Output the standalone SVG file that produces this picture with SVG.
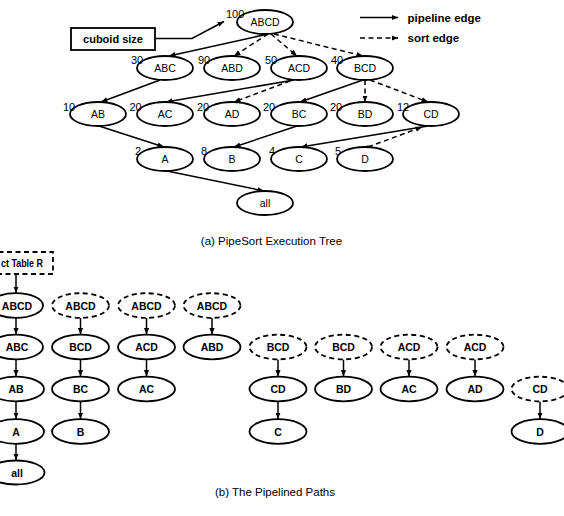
<svg xmlns="http://www.w3.org/2000/svg" width="564" height="516" viewBox="0 0 564 516">
<style>
.n ellipse{fill:#fff;stroke:#000;stroke-width:1.8}
.d ellipse{fill:#fff;stroke:#000;stroke-width:1.8;stroke-dasharray:5 3.5}
.t{font-family:"Liberation Sans",Arial,sans-serif;font-size:10.5px;text-anchor:middle;fill:#000}
.tb{font-family:"Liberation Sans",Arial,sans-serif;font-size:10.5px;font-weight:bold;text-anchor:middle;fill:#000}
.num{font-family:"Liberation Sans",Arial,sans-serif;font-size:11px;fill:#000}
.lg{font-family:"Liberation Sans",Arial,sans-serif;font-size:11.5px;font-weight:bold;fill:#000}
.cap{font-family:"Liberation Sans",Arial,sans-serif;font-size:11.5px;text-anchor:middle;fill:#000}
.e line,.e polyline{stroke:#000;stroke-width:1.5;fill:none;marker-end:url(#arr)}
.e .ds{stroke-dasharray:5 3.5}
</style>
<defs>
<marker id="arr" viewBox="0 0 10 10" refX="10" refY="5" markerWidth="6.5" markerHeight="6.5" markerUnits="userSpaceOnUse" orient="auto"><path d="M0,1 L10,5 L0,9 z" fill="#000"/></marker>
<marker id="dot" viewBox="0 0 10 10" refX="5" refY="5" markerWidth="3.5" markerHeight="3.5" markerUnits="userSpaceOnUse"><circle cx="5" cy="5" r="5" fill="#000"/></marker>
</defs>

<!-- legend and cuboid size annotation -->
<g id="legend">
<g class="e">
<line x1="360" y1="17.5" x2="398" y2="17.5"/>
<line class="ds" x1="360" y1="38" x2="398" y2="38"/>
</g>
<text class="lg" x="407.5" y="21.5">pipeline edge</text>
<text class="lg" x="407.5" y="42">sort edge</text>
</g>
<g id="cuboid-size">
<rect x="71" y="28" width="84" height="22" fill="#fff" stroke="#000" stroke-width="1.8"/>
<text class="lg" x="113" y="43" text-anchor="middle" style="font-size:11px">cuboid size</text>
<g class="e"><polyline points="155,38.5 192,38.5 224,21.5"/></g>
</g>

<!-- (a) connectors -->
<g id="edges-a" class="e">
<line x1="268" y1="34" x2="169" y2="56"/>
<line class="ds" x1="268" y1="34" x2="234" y2="56"/>
<line class="ds" x1="271" y1="34" x2="297" y2="56"/>
<line class="ds" x1="274" y1="34" x2="363" y2="56"/>
<line x1="160" y1="80" x2="101" y2="102"/>
<line x1="294" y1="80" x2="166" y2="102"/>
<line class="ds" x1="290" y1="81" x2="234" y2="102"/>
<line x1="363" y1="80" x2="300" y2="102"/>
<line class="ds" x1="365" y1="80" x2="365" y2="102"/>
<line class="ds" x1="370" y1="80" x2="428" y2="102"/>
<line x1="99" y1="126" x2="164" y2="147"/>
<line x1="297" y1="126" x2="234" y2="147"/>
<line x1="428" y1="126" x2="301" y2="147"/>
<line class="ds" x1="368" y1="147" x2="422" y2="127" style="marker-start:url(#dot)"/>
<line x1="167" y1="171" x2="264" y2="191"/>
</g>

<!-- (a) nodes -->
<g id="a-ABCD" class="n"><ellipse cx="265" cy="22" rx="28" ry="12"/><text class="t" x="265" y="26">ABCD</text><text class="num" x="226" y="17.5">100</text></g>
<g id="a-ABC" class="n"><ellipse cx="165" cy="68" rx="28" ry="12"/><text class="t" x="165" y="72">ABC</text><text class="num" x="131" y="64">30</text></g>
<g id="a-ABD" class="n"><ellipse cx="232" cy="68" rx="28" ry="12"/><text class="t" x="232" y="72">ABD</text><text class="num" x="198" y="64">90</text></g>
<g id="a-ACD" class="n"><ellipse cx="299" cy="68" rx="28" ry="12"/><text class="t" x="299" y="72">ACD</text><text class="num" x="265" y="64">50</text></g>
<g id="a-BCD" class="n"><ellipse cx="365" cy="68" rx="28" ry="12"/><text class="t" x="365" y="72">BCD</text><text class="num" x="331" y="64">40</text></g>
<g id="a-AB" class="n"><ellipse cx="98" cy="114" rx="28" ry="12"/><text class="t" x="98" y="118">AB</text><text class="num" x="63" y="111">10</text></g>
<g id="a-AC" class="n"><ellipse cx="165" cy="114" rx="28" ry="12"/><text class="t" x="165" y="118">AC</text><text class="num" x="129.5" y="111">20</text></g>
<g id="a-AD" class="n"><ellipse cx="232" cy="114" rx="28" ry="12"/><text class="t" x="232" y="118">AD</text><text class="num" x="197" y="111">20</text></g>
<g id="a-BC" class="n"><ellipse cx="299" cy="114" rx="28" ry="12"/><text class="t" x="299" y="118">BC</text><text class="num" x="263" y="111">20</text></g>
<g id="a-BD" class="n"><ellipse cx="365" cy="114" rx="28" ry="12"/><text class="t" x="365" y="118">BD</text><text class="num" x="330" y="111">20</text></g>
<g id="a-CD" class="n"><ellipse cx="431" cy="114" rx="28" ry="12"/><text class="t" x="431" y="118">CD</text><text class="num" x="397" y="111">12</text></g>
<g id="a-A" class="n"><ellipse cx="165" cy="159" rx="28" ry="12"/><text class="t" x="165" y="163">A</text><text class="num" x="135" y="155">2</text></g>
<g id="a-B" class="n"><ellipse cx="232" cy="159" rx="28" ry="12"/><text class="t" x="232" y="163">B</text><text class="num" x="201" y="155">8</text></g>
<g id="a-C" class="n"><ellipse cx="299" cy="159" rx="28" ry="12"/><text class="t" x="299" y="163">C</text><text class="num" x="269" y="155">4</text></g>
<g id="a-D" class="n"><ellipse cx="365" cy="159" rx="28" ry="12"/><text class="t" x="365" y="163">D</text><text class="num" x="335" y="155">5</text></g>
<g id="a-all" class="n"><ellipse cx="265" cy="203" rx="28" ry="12"/><text class="t" x="265" y="207">all</text></g>

<text class="cap" x="271.5" y="244.5">(a) PipeSort Execution Tree</text>

<!-- (b) connectors -->
<g id="edges-b" class="e">
<line x1="16" y1="274" x2="16" y2="293"/>
<line x1="16" y1="318" x2="16" y2="334.5"/>
<line x1="16" y1="359.5" x2="16" y2="376.5"/>
<line x1="16" y1="401.5" x2="16" y2="419"/>
<line x1="16" y1="444" x2="16" y2="460"/>
<line x1="80.5" y1="318" x2="80.5" y2="334.5"/>
<line x1="80.5" y1="359.5" x2="80.5" y2="376.5"/>
<line x1="80.5" y1="401.5" x2="80.5" y2="419"/>
<line x1="146.5" y1="318" x2="146.5" y2="334.5"/>
<line x1="146.5" y1="359.5" x2="146.5" y2="376.5"/>
<line x1="212" y1="318" x2="212" y2="334.5"/>
<line x1="278" y1="359.5" x2="278" y2="376.5"/>
<line x1="278" y1="401.5" x2="278" y2="419"/>
<line x1="343.5" y1="359.5" x2="343.5" y2="376.5"/>
<line x1="409" y1="359.5" x2="409" y2="376.5"/>
<line x1="475" y1="359.5" x2="475" y2="376.5"/>
<line x1="540" y1="401.5" x2="540" y2="419"/>
</g>

<!-- (b) nodes -->
<g id="b-fact-table">
<rect x="-10" y="252" width="63" height="22" fill="#fff" stroke="#000" stroke-width="1.8" stroke-dasharray="5 3.5"/>
<text class="tb" x="1" y="267" textLength="42" lengthAdjust="spacingAndGlyphs" style="text-anchor:start;font-size:11px">ct Table R</text>
</g>
<g id="b-ABCD-1" class="n"><ellipse cx="16" cy="305.5" rx="27" ry="12.3"/><text class="tb" x="17" y="309.5">ABCD</text></g>
<g id="b-ABCD-2" class="d"><ellipse cx="80.5" cy="305.5" rx="28.5" ry="12.3"/><text class="tb" x="80.5" y="309.5">ABCD</text></g>
<g id="b-ABCD-3" class="d"><ellipse cx="146.5" cy="305.5" rx="28.5" ry="12.3"/><text class="tb" x="146.5" y="309.5">ABCD</text></g>
<g id="b-ABCD-4" class="d"><ellipse cx="212" cy="305.5" rx="28.5" ry="12.3"/><text class="tb" x="212" y="309.5">ABCD</text></g>

<g id="b-ABC" class="n"><ellipse cx="16" cy="347" rx="27" ry="12.3"/><text class="tb" x="17" y="351">ABC</text></g>
<g id="b-BCD" class="n"><ellipse cx="80.5" cy="347" rx="28.5" ry="12.3"/><text class="tb" x="80.5" y="351">BCD</text></g>
<g id="b-ACD" class="n"><ellipse cx="146.5" cy="347" rx="28.5" ry="12.3"/><text class="tb" x="146.5" y="351">ACD</text></g>
<g id="b-ABD" class="n"><ellipse cx="212" cy="347" rx="28.5" ry="12.3"/><text class="tb" x="212" y="351">ABD</text></g>
<g id="b-BCD-d1" class="d"><ellipse cx="278" cy="347" rx="28.5" ry="12.3"/><text class="tb" x="278" y="351">BCD</text></g>
<g id="b-BCD-d2" class="d"><ellipse cx="343.5" cy="347" rx="28.5" ry="12.3"/><text class="tb" x="343.5" y="351">BCD</text></g>
<g id="b-ACD-d1" class="d"><ellipse cx="409" cy="347" rx="28.5" ry="12.3"/><text class="tb" x="409" y="351">ACD</text></g>
<g id="b-ACD-d2" class="d"><ellipse cx="475" cy="347" rx="28.5" ry="12.3"/><text class="tb" x="475" y="351">ACD</text></g>

<g id="b-AB" class="n"><ellipse cx="16" cy="389" rx="28" ry="12.3"/><text class="tb" x="16" y="393">AB</text></g>
<g id="b-BC" class="n"><ellipse cx="80.5" cy="389" rx="28.5" ry="12.3"/><text class="tb" x="80.5" y="393">BC</text></g>
<g id="b-AC" class="n"><ellipse cx="146.5" cy="389" rx="28.5" ry="12.3"/><text class="tb" x="146.5" y="393">AC</text></g>
<g id="b-CD" class="n"><ellipse cx="278" cy="389" rx="28.5" ry="12.3"/><text class="tb" x="278" y="393">CD</text></g>
<g id="b-BD" class="n"><ellipse cx="343.5" cy="389" rx="28.5" ry="12.3"/><text class="tb" x="343.5" y="393">BD</text></g>
<g id="b-AC-2" class="n"><ellipse cx="409" cy="389" rx="28.5" ry="12.3"/><text class="tb" x="409" y="393">AC</text></g>
<g id="b-AD" class="n"><ellipse cx="475" cy="389" rx="28.5" ry="12.3"/><text class="tb" x="475" y="393">AD</text></g>
<g id="b-CD-d" class="d"><ellipse cx="540" cy="389" rx="28.5" ry="12.3"/><text class="tb" x="540" y="393">CD</text></g>

<g id="b-A" class="n"><ellipse cx="16" cy="431.5" rx="28" ry="12.3"/><text class="tb" x="16" y="435.5">A</text></g>
<g id="b-B" class="n"><ellipse cx="80.5" cy="431.5" rx="28.5" ry="12.3"/><text class="tb" x="80.5" y="435.5">B</text></g>
<g id="b-C" class="n"><ellipse cx="278" cy="431.5" rx="28.5" ry="12.3"/><text class="tb" x="278" y="435.5">C</text></g>
<g id="b-D" class="n"><ellipse cx="540" cy="431.5" rx="28.5" ry="12.3"/><text class="tb" x="540" y="435.5">D</text></g>

<g id="b-all" class="n"><ellipse cx="16" cy="472.5" rx="28.5" ry="12"/><text class="tb" x="17" y="476.5">all</text></g>

<text class="cap" x="275" y="496">(b) The Pipelined Paths</text>
</svg>
